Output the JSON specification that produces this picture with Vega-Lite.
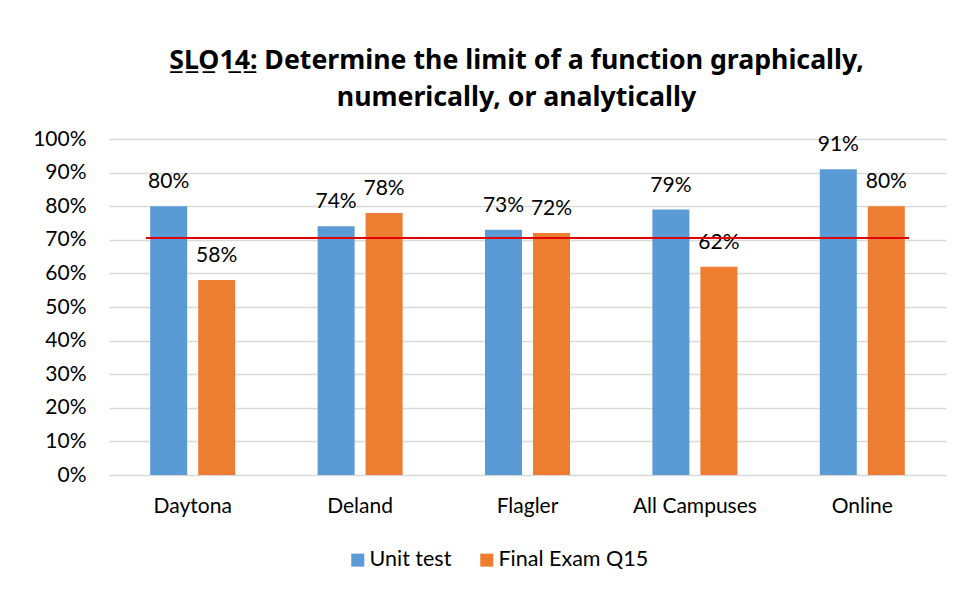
{
  "$schema": "https://vega.github.io/schema/vega-lite/v6.json",
  "width": 837,
  "height": 336,
  "autosize": "none",
  "padding": {"left": 109, "top": 139, "right": 9, "bottom": 117},
  "background": "white",
  "title": {
    "text": ["S̲L̲O̲1̲4̲: Determine the limit of a function graphically,", "numerically, or analytically"],
    "font": "Noto Sans",
    "fontSize": 26.7,
    "fontWeight": "bold",
    "color": "#000000",
    "lineHeight": 37,
    "anchor": "middle",
    "offset": 16,
    "dx": -11
  },
  "datasets": {
    "scores": [
      {"campus": "Daytona", "series": "Unit test", "value": 0.80},
      {"campus": "Daytona", "series": "Final Exam Q15", "value": 0.58},
      {"campus": "Deland", "series": "Unit test", "value": 0.74},
      {"campus": "Deland", "series": "Final Exam Q15", "value": 0.78},
      {"campus": "Flagler", "series": "Unit test", "value": 0.73},
      {"campus": "Flagler", "series": "Final Exam Q15", "value": 0.72},
      {"campus": "All Campuses", "series": "Unit test", "value": 0.79},
      {"campus": "All Campuses", "series": "Final Exam Q15", "value": 0.62},
      {"campus": "Online", "series": "Unit test", "value": 0.91},
      {"campus": "Online", "series": "Final Exam Q15", "value": 0.80}
    ],
    "target": [
      {"from": "Daytona", "to": "Online", "value": 0.705}
    ]
  },
  "layer": [
    {
      "data": {"name": "scores"},
      "mark": {"type": "bar"},
      "encoding": {
        "x": {
          "field": "campus", "type": "nominal",
          "scale": {"domain": ["Daytona", "Deland", "Flagler", "All Campuses", "Online"], "paddingInner": 0, "paddingOuter": 0},
          "axis": {"title": null, "labelAngle": 0, "domain": false, "ticks": false, "labelFont": "Lato", "labelFontSize": 21, "labelColor": "#000000", "labelPadding": 20}
        },
        "xOffset": {
          "field": "series", "type": "nominal",
          "scale": {"domain": ["Unit test", "Final Exam Q15"], "paddingInner": 0.229, "paddingOuter": 0.858}
        },
        "y": {
          "field": "value", "type": "quantitative",
          "scale": {"domain": [0, 1], "nice": false},
          "axis": {"title": null, "values": [0, 0.1, 0.2, 0.3, 0.4, 0.5, 0.6, 0.7, 0.8, 0.9, 1], "tickCount": 20, "labelOverlap": false, "format": ".0%", "domain": false, "ticks": false, "gridColor": "#d9d9d9", "gridWidth": 1.3, "labelFont": "Lato", "labelFontSize": 21, "labelColor": "#000000", "labelPadding": 23}
        },
        "color": {
          "field": "series", "type": "nominal",
          "scale": {"domain": ["Unit test", "Final Exam Q15"], "range": ["#5B9BD5", "#ED7D31"]},
          "legend": {"title": null, "orient": "none", "direction": "horizontal", "legendX": 238, "legendY": 410, "symbolType": "square", "symbolSize": 169, "symbolStrokeWidth": 0, "labelFont": "Lato", "labelFontSize": 21.5, "labelColor": "#000000", "labelOffset": 1, "columnPadding": 24, "padding": 0}
        }
      }
    },
    {
      "data": {"name": "scores"},
      "mark": {"type": "text", "font": "Lato", "fontSize": 21, "color": "#000000", "baseline": "middle", "dy": -24},
      "encoding": {
        "x": {"field": "campus", "type": "nominal"},
        "xOffset": {"field": "series", "type": "nominal"},
        "y": {
          "field": "value", "type": "quantitative",
          "axis": {"title": null, "values": [0, 0.1, 0.2, 0.3, 0.4, 0.5, 0.6, 0.7, 0.8, 0.9, 1], "tickCount": 20, "labelOverlap": false, "format": ".0%", "domain": false, "ticks": false, "gridColor": "#d9d9d9", "gridWidth": 1.3, "labelFont": "Lato", "labelFontSize": 21, "labelColor": "#000000", "labelPadding": 23}
        },
        "text": {"field": "value", "type": "quantitative", "format": ".0%"}
      }
    },
    {
      "data": {"name": "target"},
      "mark": {"type": "rule", "color": "#E00000", "strokeWidth": 2},
      "encoding": {
        "x": {"field": "from", "type": "nominal", "bandPosition": 0.22},
        "x2": {"field": "to", "bandPosition": 0.78},
        "y": {
          "field": "value", "type": "quantitative",
          "axis": {"title": null, "values": [0, 0.1, 0.2, 0.3, 0.4, 0.5, 0.6, 0.7, 0.8, 0.9, 1], "tickCount": 20, "labelOverlap": false, "format": ".0%", "domain": false, "ticks": false, "gridColor": "#d9d9d9", "gridWidth": 1.3, "labelFont": "Lato", "labelFontSize": 21, "labelColor": "#000000", "labelPadding": 23}
        }
      }
    }
  ],
  "config": {
    "view": {"stroke": null}
  }
}
